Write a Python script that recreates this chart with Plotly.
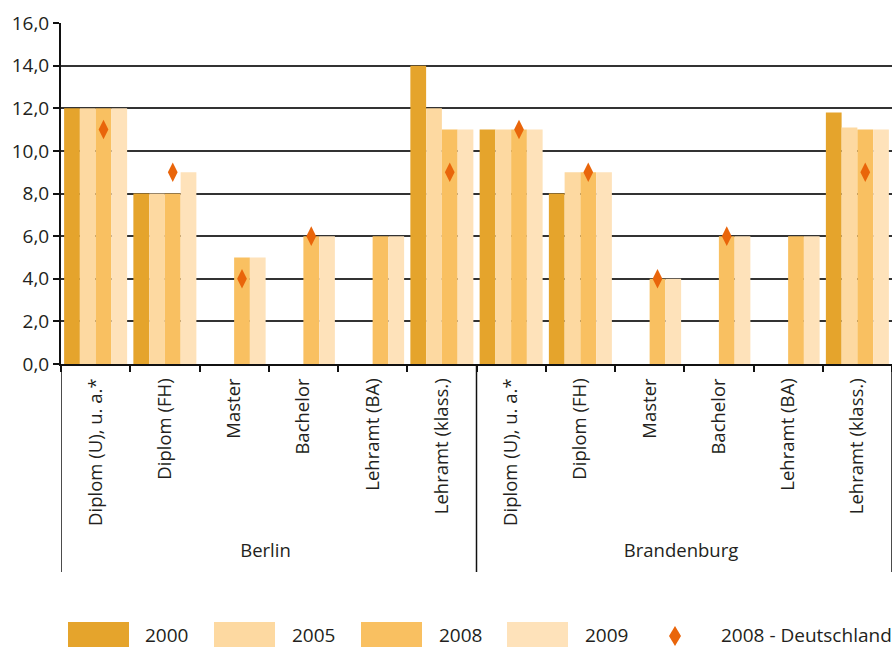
import plotly.graph_objects as go

# ---------------- data ----------------
regions = ["Berlin"] * 6 + ["Brandenburg"] * 6
degrees = ["Diplom (U), u. a.*", "Diplom (FH)", "Master", "Bachelor",
           "Lehramt (BA)", "Lehramt (klass.)"] * 2
years = ["2000", "2005", "2008", "2009"]
v2000 = [12, 8, 0, 0, 0, 14, 11, 8, 0, 0, 0, 11.8]
v2005 = [12, 8, 0, 0, 0, 12, 11, 9, 0, 0, 0, 11.1]
v2008 = [12, 8, 5, 6, 6, 11, 11, 9, 4, 6, 6, 11]
v2009 = [12, 9, 5, 6, 6, 11, 11, 9, 4, 6, 6, 11]
de2008 = [11, 9, 4, 6, None, 9, 11, 9, 4, 6, None, 9]
de_label = "2008 - Deutschland"
y_ticks = [0, 2, 4, 6, 8, 10, 12, 14, 16]

colors = ["#E5A42C", "#FDD9A1", "#F9C061", "#FEE2BA"]
de_color = "#E9650A"
FONT = "Open Sans"
TXT = "#231f20"

W, H = 892, 647
L, R, T, B = 61, 0, 23, 283
BARGAP = 0.09

fig = go.Figure()
for yr, vals, col in zip(years, [v2000, v2005, v2008, v2009], colors):
    fig.add_trace(go.Bar(x=[regions, degrees], y=vals, name=yr,
                         marker=dict(color=col, line=dict(width=0))))

# diamonds aligned with the 2008 bar of each group (overlay numeric axis)
n_bars = len(years)
group_w = 1 - BARGAP
off_2008 = -group_w / 2 + group_w / n_bars * (years.index("2008") + 0.5)
x_idx = [i + off_2008 for i in range(len(degrees))]
fig.add_trace(go.Scatter(x=x_idx, y=de2008, mode="markers", xaxis="x2",
                         name=de_label,
                         marker=dict(symbol="diamond-tall", size=14,
                                     color=de_color, line=dict(width=0))))

fig.update_layout(
    width=W, height=H,
    margin=dict(l=L, r=R, t=T, b=B, autoexpand=False),
    paper_bgcolor="white", plot_bgcolor="white",
    barmode="group", bargap=BARGAP, bargroupgap=0,
    showlegend=False,
    separators=",.",
    font=dict(family=FONT, size=18, color=TXT),
    xaxis=dict(type="multicategory", showline=True, linecolor="#111",
               linewidth=2, ticks="outside", tickson="boundaries",
               ticklen=6, tickcolor="#111", tickwidth=1.5,
               tickangle=-90, showgrid=False, automargin=False,
               showdividers=False, ticklabelstandoff=5,
               tickfont=dict(family=FONT, size=18.5, color=TXT),
               range=[-0.5, 11.5]),
    xaxis2=dict(overlaying="x", range=[-0.5, 11.5], visible=False,
                showgrid=False, zeroline=False),
    yaxis=dict(range=[0, 16], tickvals=y_ticks, tickformat=".1f",
               showline=True, linecolor="#111", linewidth=2,
               ticks="outside", ticklen=6, tickcolor="#111", tickwidth=1.5,
               showgrid=True, gridcolor="#333", gridwidth=1.5,
               zeroline=False, automargin=False,
               tickfont=dict(family=FONT, size=19, color=TXT)),
)

pw, ph = W - L - R, H - T - B


def px(xp):
    return (xp - L) / pw


def py(yp):
    return (H - B - yp) / ph


# group dividers at the region boundaries
bounds = [-0.5] + [i - 0.5 for i in range(1, len(regions))
                   if regions[i] != regions[i - 1]] + [len(regions) - 0.5]
for b in bounds:
    fig.add_shape(type="line", xref="x2", yref="paper", x0=b, x1=b,
                  y0=0, y1=py(572), line=dict(color="#111", width=1.5))

# ---------------- manual legend ----------------
sw_x = [68, 214, 361, 507]
txt_x = [143, 290, 437, 583]
for yr, col, sx, tx in zip(years, colors, sw_x, txt_x):
    fig.add_shape(type="rect", xref="paper", yref="paper",
                  x0=px(sx), x1=px(sx + 61), y0=py(622), y1=py(660),
                  fillcolor=col, line=dict(width=0))
    fig.add_annotation(xref="paper", yref="paper", x=px(tx), y=py(635),
                       text=yr, showarrow=False, xanchor="left",
                       yanchor="middle",
                       font=dict(family=FONT, size=19, color=TXT))
dx, dy, cx, cy = 6, 10, 675, 636
fig.add_shape(type="path", xref="paper", yref="paper",
              path=f"M {px(cx)} {py(cy - dy)} L {px(cx + dx)} {py(cy)} "
                   f"L {px(cx)} {py(cy + dy)} L {px(cx - dx)} {py(cy)} Z",
              fillcolor=de_color, line=dict(width=0))
fig.add_annotation(xref="paper", yref="paper", x=px(719), y=py(635),
                   text=de_label, showarrow=False, xanchor="left",
                   yanchor="middle",
                   font=dict(family=FONT, size=19, color=TXT))

fig.write_html("out.html", config={"displayModeBar": False},
               post_script="document.body.style.margin='0';"
                           "document.body.style.overflow='hidden';")
